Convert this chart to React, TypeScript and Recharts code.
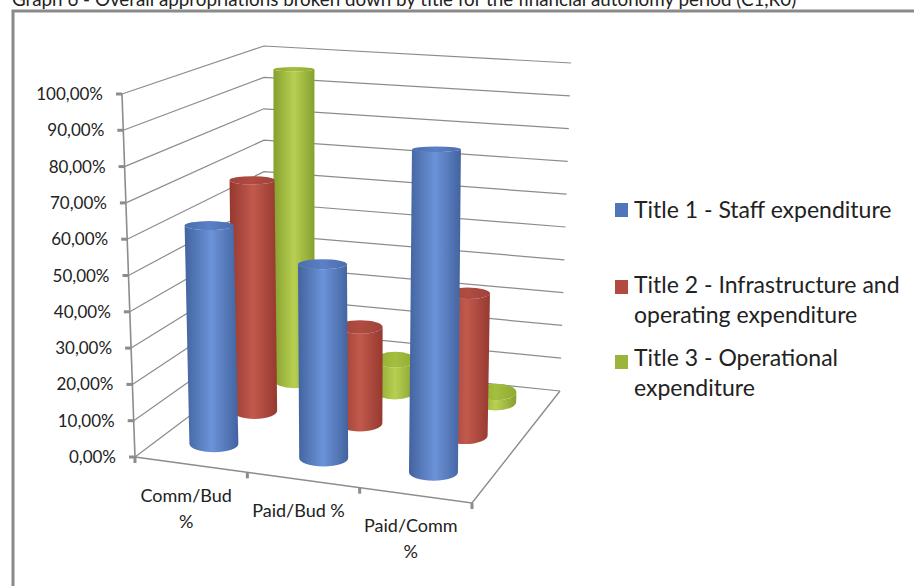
import { BarChart, Bar, XAxis, YAxis, CartesianGrid, Legend } from 'recharts';

const W = 914;
const H = 586;
const AXIS_SIZE = 1; // axes draw nothing at size 0
const PLOT_W = W - AXIS_SIZE;
const PLOT_H = H - AXIS_SIZE;
const FONT = 'Lato, "Open Sans", sans-serif';

const categories = ['Comm/Bud\n%', 'Paid/Bud %', 'Paid/Comm\n%'];
const title1 = [61.5, 54, 89];
const title2 = [68, 28, 41];
const title3 = [96, 9.5, 3];
const yTicks = [0, 10, 20, 30, 40, 50, 60, 70, 80, 90, 100];
const yLabels = ['0,00%', '10,00%', '20,00%', '30,00%', '40,00%', '50,00%', '60,00%', '70,00%', '80,00%', '90,00%', '100,00%'];
const heading = 'Graph 6 - Overall appropriations broken down by title for the financial autonomy period (C1,R0)';

const chartData = categories.map((name, i) => ({
  name,
  title1: title1[i],
  title2: title2[i],
  title3: title3[i],
}));

// corners of the 3D box as the picture shows it: [front left, front right, back left, back right]
const floor = [[135, 457], [472, 503], [264, 360], [560, 391]];
const ceiling = [[122, 94], [477, 128], [264, 46], [571, 63]];

function corner(box: number[][], u: number, v: number, n: number) {
  return (
    box[0][n] * (1 - u) * (1 - v) +
    box[1][n] * u * (1 - v) +
    box[2][n] * (1 - u) * v +
    box[3][n] * u * v
  );
}

// u along the categories, v into the depth, h up the value axis, all 0..1
function project(u: number, v: number, h: number) {
  const dx = Math.pow(v, 0.95);
  const dy = Math.pow(v, 0.88);
  return {
    x: corner(floor, u, dx, 0) * (1 - h) + corner(ceiling, u, dx, 0) * h,
    y: corner(floor, u, dy, 1) * (1 - h) + corner(ceiling, u, dy, 1) * h,
  };
}

const band = PLOT_W / categories.length;

function Cylinder(props: any) {
  const { x, y, width, fill } = props;
  const mid = x + width / 2 - AXIS_SIZE;
  const k = Math.floor(mid / band);
  const u = (k + 0.5) / categories.length;
  const v = 1 - (mid - k * band) / band;
  const h = 1 - y / PLOT_H;
  const base = project(u, v, 0);
  const top = project(u, v, h);
  const rx = 25.5 - 6 * v;
  const ryB = 8.5;
  const ryT = 8.5 - 6.5 * h;
  const side =
    `M${top.x - rx},${top.y} L${base.x - rx},${base.y} ` +
    `A${rx},${ryB} 0 0 0 ${base.x + rx},${base.y} L${top.x + rx},${top.y} ` +
    `A${rx},${ryT} 0 0 1 ${top.x - rx},${top.y} Z`;
  return (
    <g>
      <path d={side} fill={`url(#side-${fill})`} />
      <ellipse cx={top.x} cy={top.y} rx={rx} ry={ryT} fill={`url(#cap-${fill})`} />
    </g>
  );
}

const shades: Record<string, string[]> = {
  blue: ['#42639f', '#6c93d8', '#4a6db0', '#5c80c4'],
  red: ['#96392f', '#c2594d', '#a0423a', '#b04c42'],
  green: ['#86a02f', '#b7d052', '#8fab30', '#a3bf40'],
};

function Defs() {
  return (
    <defs>
      {Object.keys(shades).map((c) => (
        <linearGradient key={c} id={`side-${c}`} x1="0" x2="1" y1="0" y2="0">
          <stop offset="0" stopColor={shades[c][0]} />
          <stop offset="0.5" stopColor={shades[c][1]} />
          <stop offset="1" stopColor={shades[c][0]} />
        </linearGradient>
      ))}
      {Object.keys(shades).map((c) => (
        <linearGradient key={c} id={`cap-${c}`} x1="0" x2="1" y1="0" y2="0">
          <stop offset="0" stopColor={shades[c][2]} />
          <stop offset="0.5" stopColor={shades[c][3]} />
          <stop offset="1" stopColor={shades[c][2]} />
        </linearGradient>
      ))}
    </defs>
  );
}

function WallLine(props: any) {
  const h = 1 - props.y1 / PLOT_H;
  const a = project(0, 0, h);
  const b = project(0, 1, h);
  const c = project(1, 1, h);
  return (
    <polyline
      key={props.key}
      points={`${a.x},${a.y} ${b.x},${b.y} ${c.x},${c.y}`}
      fill="none"
      stroke="#8c8c8c"
      strokeWidth={1.2}
    />
  );
}

function YTick(props: any) {
  const value = props.payload.value;
  const p = project(0, 0, value / 100);
  return (
    <g>
      <line x1={p.x - 6} x2={p.x} y1={p.y} y2={p.y} stroke="#8c8c8c" strokeWidth={3} />
      <text x={p.x - 19} y={p.y + 6} textAnchor="end" fontFamily={FONT} fontSize={17} fill="#222">
        {yLabels[yTicks.indexOf(value)]}
      </text>
    </g>
  );
}

function XTick(props: any) {
  const p = project((props.x - AXIS_SIZE) / PLOT_W, 0, 0);
  const lines = String(props.payload.value).split('\n');
  return (
    <g>
      {lines.map((line, i) => (
        <text
          key={line}
          x={p.x - 5}
          y={p.y + 37 + i * 26}
          textAnchor="middle"
          fontFamily={FONT}
          fontSize={18}
          fill="#222"
        >
          {line}
        </text>
      ))}
    </g>
  );
}

// front and right floor edges, value axis line, category tick marks
function BoxEdges() {
  const fl = project(0, 0, 0);
  const fr = project(1, 0, 0);
  const br = project(1, 1, 0);
  const tl = project(0, 0, 1);
  return (
    <g stroke="#8c8c8c" fill="none">
      <polyline points={`${fl.x},${fl.y} ${fr.x},${fr.y} ${br.x},${br.y}`} strokeWidth={1.4} />
      <line x1={fl.x} y1={fl.y} x2={tl.x} y2={tl.y} strokeWidth={1.6} />
      {[0, 1, 2, 3].map((i) => {
        const p = project(i / 3, 0, 0);
        return <line key={i} x1={p.x} y1={p.y} x2={p.x} y2={p.y + 6} strokeWidth={3} />;
      })}
    </g>
  );
}

const legendRows = [
  { color: '#4f76b8', lines: [['Title 1 - Staff expenditure', 218]], box: 203 },
  { color: '#b34a3f', lines: [['Title 2 - Infrastructure and', 293], ['operating expenditure', 323]], box: 280 },
  { color: '#9ab43c', lines: [['Title 3 - Operational', 366], ['expenditure', 396]], box: 355 },
];

function ChartLegend() {
  return (
    <svg width={W} height={H} style={{ position: 'absolute', left: 0, top: 0, pointerEvents: 'none' }}>
      {legendRows.map((row) => (
        <g key={row.color}>
          <rect x={615} y={row.box} width={13} height={14} fill={row.color} />
          {row.lines.map(([text, y]) => (
            <text key={text} x={634} y={y} fontFamily={FONT} fontSize={23} fill="#222">
              {text}
            </text>
          ))}
        </g>
      ))}
    </svg>
  );
}

export default function App() {
  return (
    <div style={{ position: 'absolute', left: 0, top: 0, width: W, height: H, background: '#fff', overflow: 'hidden' }}>
      <BarChart
        width={W}
        height={H}
        data={chartData}
        margin={{ top: 0, right: 0, bottom: 0, left: 0 }}
        barCategoryGap={0}
        barGap={0}
      >
        <Defs />
        <text x={12} y={6} fontFamily={FONT} fontSize={18.8} fill="#222">
          {heading}
        </text>
        <path d={`M${W + 4},11 L13,11 L13,${H + 4}`} fill="none" stroke="#8a8a8a" strokeWidth={3} />
        <CartesianGrid vertical={false} horizontal={WallLine} />
        <BoxEdges />
        <XAxis dataKey="name" height={AXIS_SIZE} axisLine={false} tickLine={false} tick={XTick} interval={0} />
        <YAxis
          domain={[0, 100]}
          ticks={yTicks}
          width={AXIS_SIZE}
          axisLine={false}
          tickLine={false}
          tick={YTick}
          interval={0}
        />
        <Legend
          content={ChartLegend}
          wrapperStyle={{ position: 'absolute', left: 0, top: 0, width: 0, height: 0 }}
        />
        <Bar dataKey="title3" name="Title 3 - Operational expenditure" fill="green" shape={Cylinder} isAnimationActive={false} />
        <Bar dataKey="title2" name="Title 2 - Infrastructure and operating expenditure" fill="red" shape={Cylinder} isAnimationActive={false} />
        <Bar dataKey="title1" name="Title 1 - Staff expenditure" fill="blue" shape={Cylinder} isAnimationActive={false} />
      </BarChart>
    </div>
  );
}
